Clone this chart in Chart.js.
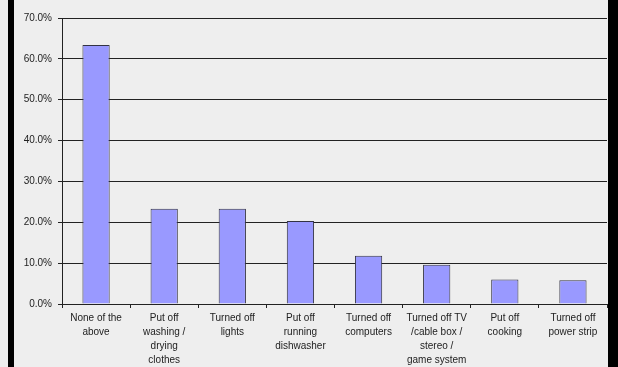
<!DOCTYPE html>
<html>
<head>
<meta charset="utf-8">
<script src="https://cdn.jsdelivr.net/npm/chart.js@4.4.1/dist/chart.umd.min.js"></script>
<style>
  html, body { margin: 0; padding: 0; background: #eeeeee; }
  #wrap {
    position: absolute;
    left: 8px;
    top: 0;
    width: 594px;
    height: 367px;
    border-left: 6px solid #000;
    border-right: 10px solid #000;
  }
</style>
</head>
<body>
<div id="wrap"><canvas id="savingChart" width="594" height="367"></canvas></div>
<script>
  // Actions taken to save energy (share of respondents, %)
  const categories = [
    ['None of the', 'above'],
    ['Put off', 'washing /', 'drying', 'clothes'],
    ['Turned off', 'lights'],
    ['Put off', 'running', 'dishwasher'],
    ['Turned off', 'computers'],
    ['Turned off TV', '/cable box /', 'stereo /', 'game system'],
    ['Put off', 'cooking'],
    ['Turned off', 'power strip']
  ];
  const shares = [63.4, 23.3, 23.3, 20.3, 11.8, 9.6, 6.0, 5.8];
  const yTicks = [0, 10, 20, 30, 40, 50, 60, 70];

  const textColor = '#222222';
  const lineColor = '#222222';

  new Chart(document.getElementById('savingChart'), {
    type: 'bar',
    data: {
      labels: categories,
      datasets: [{
        data: shares,
        backgroundColor: '#9999ff',
        borderColor: '#333344',
        borderWidth: 1,
        barPercentage: 0.4,
        categoryPercentage: 1.0
      }]
    },
    options: {
      responsive: false,
      maintainAspectRatio: false,
      animation: false,
      devicePixelRatio: 1,
      layout: { padding: { top: 18, right: 1, left: 0, bottom: 0 } },
      plugins: {
        legend: { display: false },
        tooltip: { enabled: false }
      },
      scales: {
        x: {
          afterFit: (scale) => { scale.height = 63; },
          border: { color: lineColor, width: 1 },
          grid: {
            offset: true,
            drawOnChartArea: false,
            drawTicks: true,
            tickLength: 4,
            color: lineColor
          },
          ticks: {
            color: textColor,
            autoSkip: false,
            maxRotation: 0,
            padding: 3,
            font: { family: 'Liberation Sans, Arial, sans-serif', size: 10, lineHeight: 1.4 }
          }
        },
        y: {
          min: 0,
          max: 70,
          afterFit: (scale) => { scale.width = 48; },
          afterBuildTicks: (scale) => {
            scale.ticks = yTicks.map(v => ({ value: v }));
          },
          border: { color: lineColor, width: 1 },
          grid: {
            color: lineColor,
            lineWidth: 1,
            tickLength: 4
          },
          ticks: {
            color: textColor,
            padding: 6,
            font: { family: 'Liberation Sans, Arial, sans-serif', size: 10 },
            callback: (v) => v.toFixed(1) + '%'
          }
        }
      }
    }
  });
</script>
</body>
</html>
